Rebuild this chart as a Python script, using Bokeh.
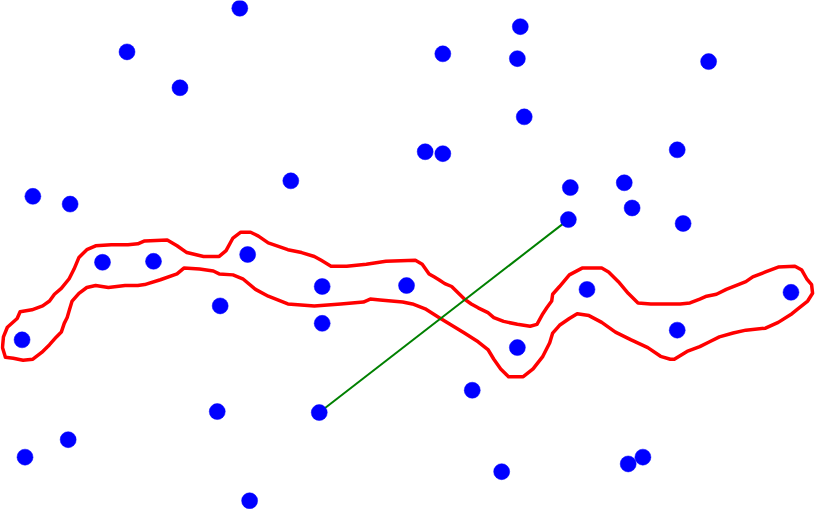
from bokeh.plotting import figure
from bokeh.embed import file_html
from bokeh.resources import INLINE
from bokeh.models import Range1d

# Scatter points (reference pixel coordinates, y grows downward)
pts_x = [244, 129, 183, 451, 530, 527, 722, 534, 433, 451, 690, 296, 33, 71,
         581, 636, 644, 579, 696, 104, 156, 252, 328, 414, 598, 806, 224, 328,
         22, 690, 527, 481, 221, 325, 69, 25, 655, 640, 511, 254]
pts_y = [8, 53, 90, 55, 27, 60, 63, 120, 156, 158, 154, 186, 202, 210,
         193, 188, 214, 226, 230, 270, 269, 262, 295, 294, 298, 301, 315, 333,
         350, 340, 358, 402, 424, 425, 453, 471, 471, 478, 486, 516]

# Green segment
seg_x = [325, 579]
seg_y = [425, 226]

# Red freehand lasso outline
lasso = [
    (5, 368), (2, 358), (3, 347), (7, 337), (17, 328), (20, 321), (32, 319), (43, 315),
    (50, 310), (55, 303), (62, 297), (70, 287), (75, 277), (80, 265), (88, 257), (97, 253),
    (113, 252), (130, 252), (140, 251), (147, 248), (170, 247), (180, 253), (190, 260),
    (207, 264), (223, 264), (230, 258), (237, 245), (245, 239), (255, 239), (263, 243),
    (273, 250), (293, 257), (307, 260), (320, 264), (327, 268), (337, 274), (353, 274),
    (373, 272), (393, 269), (423, 268), (430, 272), (437, 282), (442, 285), (447, 288),
    (453, 292), (460, 295), (467, 302), (473, 308), (480, 313), (487, 317), (497, 322),
    (503, 327), (513, 331), (527, 334), (540, 336), (547, 334), (553, 323), (557, 317),
    (562, 310), (563, 303), (570, 295), (580, 283), (593, 276), (613, 276), (620, 280),
    (630, 290), (640, 302), (650, 312), (663, 313), (683, 313), (693, 313), (703, 312),
    (713, 308), (720, 305), (730, 303), (740, 298), (760, 290), (767, 285), (780, 280),
    (793, 275), (810, 274), (817, 278), (822, 287), (827, 293), (828, 302), (823, 310),
    (813, 318), (807, 323), (793, 332), (780, 338), (760, 340), (747, 343), (733, 347),
    (723, 352), (713, 357), (700, 362), (687, 370), (683, 370), (673, 367), (660, 358),
    (643, 350), (627, 342), (613, 332), (600, 325), (588, 323), (580, 328), (570, 335),
    (563, 343), (560, 353), (553, 367), (543, 380), (533, 388), (518, 388), (510, 380),
    (503, 370), (497, 360), (487, 352), (473, 343), (460, 335), (447, 327), (433, 318),
    (420, 313), (410, 311), (387, 309), (377, 308), (370, 311), (347, 313), (320, 315),
    (293, 313), (273, 305), (260, 298), (247, 287), (237, 283), (223, 282), (217, 279),
    (203, 277), (187, 276), (180, 282), (163, 288), (147, 293), (140, 294), (127, 294),
    (110, 296), (97, 294), (88, 296), (80, 302), (73, 310), (70, 320), (68, 327),
    (65, 333), (62, 342), (57, 347), (50, 355), (42, 363), (33, 370), (23, 371),
    (13, 369), (5, 368),
]
lasso_x = [p[0] for p in lasso]
lasso_y = [p[1] for p in lasso]

p = figure(width=816, height=509, output_backend="svg", toolbar_location=None,
           x_range=Range1d(0, 832), y_range=Range1d(525, 0), min_border=0)
p.axis.visible = False
p.xgrid.visible = False
p.ygrid.visible = False
p.outline_line_color = None
p.background_fill_color = "white"
p.border_fill_color = "white"

p.line(lasso_x, lasso_y, line_color="red", line_width=3.5, line_join="round", line_cap="round")
p.line(seg_x, seg_y, line_color="green", line_width=2)
p.scatter(pts_x, pts_y, size=16, fill_color="blue", line_color="blue", line_width=0.5)

open("out.html", "w").write(file_html(p, INLINE))
